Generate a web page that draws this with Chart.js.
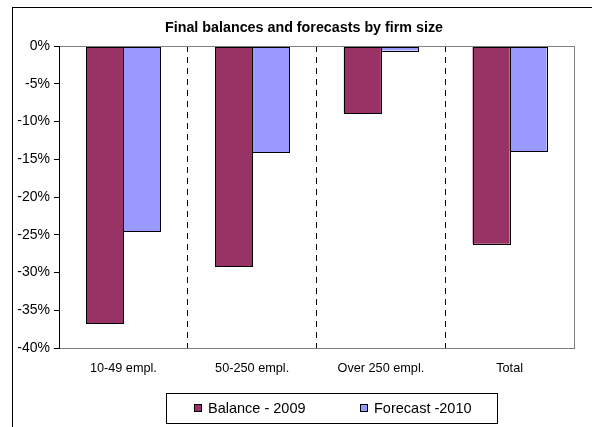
<!DOCTYPE html>
<html>
<head>
<meta charset="utf-8">
<script src="https://cdn.jsdelivr.net/npm/chart.js@4/dist/chart.umd.min.js"></script>
<style>
  html, body { margin: 0; padding: 0; background: #ffffff; }
  #wrap { width: 592px; height: 427px; position: relative; }
</style>
</head>
<body>
<div id="wrap"><canvas id="c" width="592" height="427"></canvas></div>
<script>
// Final balances (2009) and forecasts (2010) by firm size, in percent
const categories = ['10-49 empl.', '50-250 empl.', 'Over 250 empl.', 'Total'];
const balance2009 = [-36.7, -29.2, -8.9, -26.2];
const forecast2010 = [-24.5, -14.1, -0.6, -13.9];
const seriesNames = ['Balance - 2009', 'Forecast -2010'];
const seriesColors = ['#993366', '#9999FF'];
const titleText = 'Final balances and forecasts by firm size';

const FONT = "'Liberation Sans', Arial, sans-serif";

// Crisp 1px black outline around every bar, taken from the bar elements
const barOutlines = {
  id: 'barOutlines',
  afterDatasetsDraw(chart) {
    const ctx = chart.ctx;
    ctx.save();
    ctx.strokeStyle = '#000';
    ctx.lineWidth = 1;
    chart.data.datasets.forEach((ds, i) => {
      chart.getDatasetMeta(i).data.forEach((bar) => {
        const p = bar.getProps(['x', 'y', 'base', 'width'], true);
        const l = Math.round(p.x - p.width / 2), r = Math.round(p.x + p.width / 2);
        const t = Math.round(Math.min(p.y, p.base)), b = Math.round(Math.max(p.y, p.base));
        ctx.strokeRect(l + 0.5, t + 0.5, r - l, b - t);
      });
    });
    ctx.restore();
  }
};

// Outer frame, plot-area border, title and boxed legend
const decorations = {
  id: 'decorations',
  afterDraw(chart) {
    const ctx = chart.ctx;
    const a = chart.chartArea;
    ctx.save();
    // outer frame
    ctx.strokeStyle = '#000';
    ctx.lineWidth = 1;
    ctx.strokeRect(12.5, 7.5, 700, 600);
    // plot-area border
    ctx.strokeStyle = '#808080';
    ctx.strokeRect(Math.round(a.left) + 0.5, Math.round(a.top) + 0.5,
                   Math.round(a.right - a.left), Math.round(a.bottom - a.top));
    ctx.strokeStyle = '#000';
    ctx.beginPath();
    ctx.moveTo(Math.round(a.left) + 0.5, a.top);
    ctx.lineTo(Math.round(a.left) + 0.5, a.bottom + 1);
    ctx.stroke();

    // title
    ctx.fillStyle = '#000';
    ctx.font = 'bold 14.3px ' + FONT;
    ctx.textAlign = 'center';
    ctx.textBaseline = 'middle';
    ctx.fillText(titleText, 304, 28);

    // legend box
    const lx = 166, ly = 393, lw = 331, lh = 30;
    ctx.strokeStyle = '#000';
    ctx.strokeRect(lx + 0.5, ly + 0.5, lw, lh);
    const items = chart.data.datasets;
    const xs = [194, 360];
    ctx.font = '14.5px ' + FONT;
    ctx.textAlign = 'left';
    items.forEach((ds, i) => {
      const mx = xs[i], my = ly + lh / 2;
      ctx.fillStyle = ds.backgroundColor;
      ctx.fillRect(mx, my - 4, 8, 8);
      ctx.strokeRect(mx + 0.5, my - 3.5, 7, 7);
      ctx.fillStyle = '#000';
      ctx.fillText(ds.label, mx + 14, my + 1);
    });
    ctx.restore();
  }
};

new Chart(document.getElementById('c'), {
  type: 'bar',
  data: {
    labels: categories,
    datasets: [
      { label: seriesNames[0], data: balance2009, backgroundColor: seriesColors[0], borderWidth: 0 },
      { label: seriesNames[1], data: forecast2010, backgroundColor: seriesColors[1], borderWidth: 0 }
    ]
  },
  options: {
    responsive: false,
    animation: false,
    devicePixelRatio: 1,
    layout: { padding: { left: 0, top: 46, right: 18, bottom: 0 } },
    datasets: { bar: { barPercentage: 1.0, categoryPercentage: 0.575 } },
    plugins: {
      legend: { display: false },
      title: { display: false },
      tooltip: { enabled: false }
    },
    scales: {
      x: {
        offset: true,
        grid: {
          offset: true,
          drawTicks: false,
          color: (c) => (c.index === 0 || c.index === categories.length) ? 'rgba(0,0,0,0)' : '#000',
          lineWidth: 1
        },
        border: { display: false, dash: [6, 5] },
        ticks: { color: '#000', font: { family: FONT, size: 12.7 }, padding: 13 },
        afterFit(scale) { scale.height = 79; }
      },
      y: {
        min: -40,
        max: 0,
        grid: { drawOnChartArea: false, drawTicks: true, tickLength: 5, color: '#000' },
        border: { display: false },
        ticks: {
          stepSize: 5,
          color: '#000',
          font: { family: FONT, size: 14 },
          padding: 4,
          callback: (v) => v + '%'
        },
        afterFit(scale) { scale.width = 59; }
      }
    }
  },
  plugins: [barOutlines, decorations]
});
</script>
</body>
</html>
